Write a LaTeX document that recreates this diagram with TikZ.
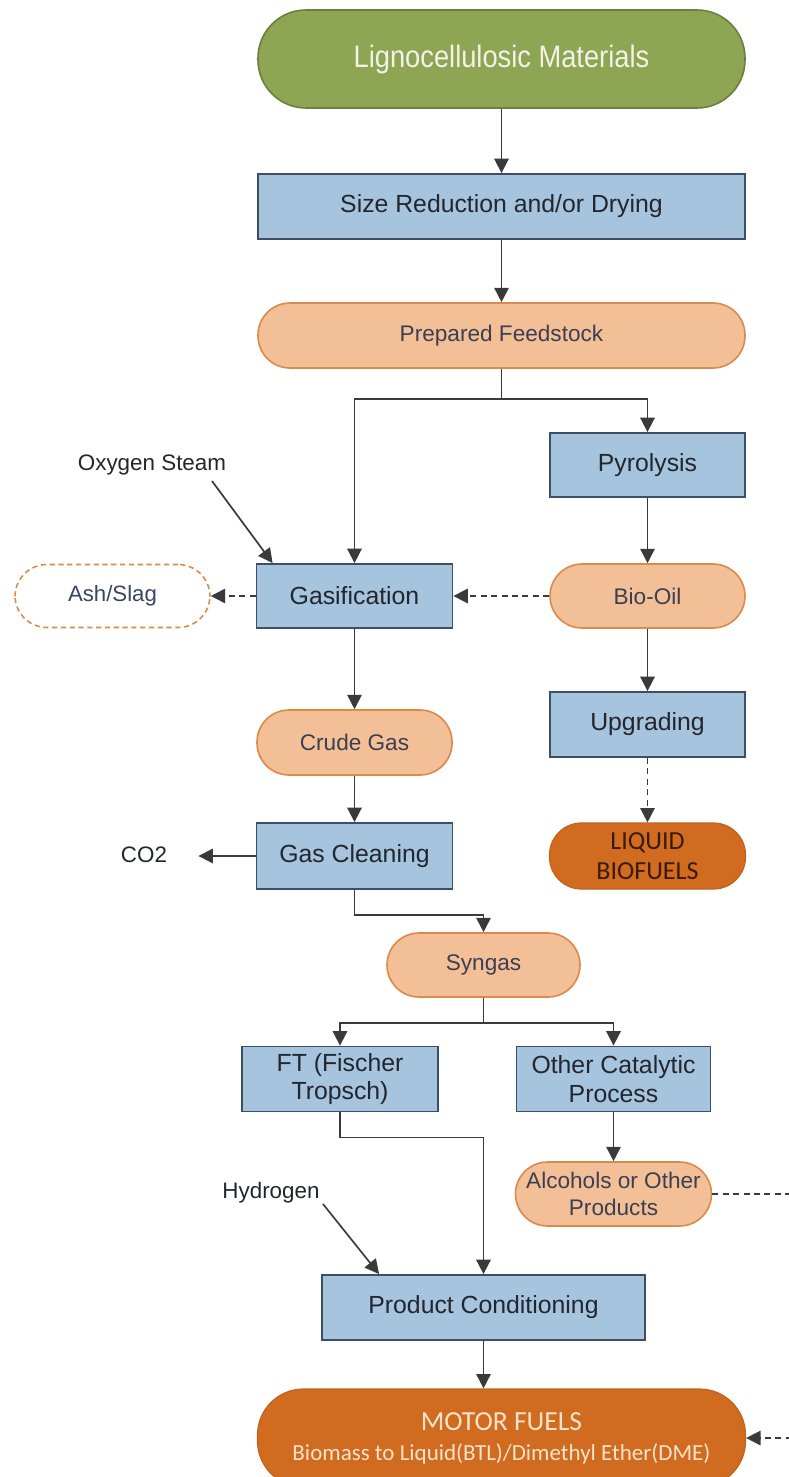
\documentclass[tikz,border=0pt]{standalone}
\usepackage{fontspec}
\setmainfont{Liberation Sans}
\newfontfamily\calfont{Carlito}
\usetikzlibrary{arrows.meta,calc}

\definecolor{boxblue}{HTML}{A7C4DE}
\definecolor{boxedge}{HTML}{3D4F66}
\definecolor{peach}{HTML}{F2BF97}
\definecolor{peachedge}{HTML}{D98A4C}
\definecolor{leaf}{HTML}{8EA554}
\definecolor{leafedge}{HTML}{6B8040}
\definecolor{rust}{HTML}{D06B1F}
\definecolor{rustedge}{HTML}{C2621C}
\definecolor{wire}{HTML}{3A3A3A}
\definecolor{inkdark}{HTML}{22262E}
\definecolor{inkpeach}{HTML}{3C3F52}
\definecolor{inkash}{HTML}{3A4466}
\definecolor{inkbrown}{HTML}{3A1A08}
\definecolor{inkcream}{HTML}{F7E3CC}
\definecolor{inkleaf}{HTML}{F4F2E6}

\begin{document}
\begin{tikzpicture}[x=0.5pt,y=-0.5pt,
  sz/.style 2 args={minimum width=#1*0.5pt, minimum height=#2*0.5pt},
  base/.style={inner sep=0pt, align=center},
  procbox/.style={base, draw=boxedge, fill=boxblue, line width=0.9pt,
    text=inkdark, font=\fontsize{12.4}{14.2}\selectfont},
  stockpill/.style={base, draw=peachedge, fill=peach, line width=0.8pt,
    rounded corners=16pt, text=inkpeach, font=\fontsize{11.3}{13.2}\selectfont},
  wastepill/.style={base, draw=peachedge, fill=white, line width=0.8pt,
    dash pattern=on 2.6pt off 1.8pt, rounded corners=16pt, text=inkash,
    font=\fontsize{11.1}{13}\selectfont},
  fuelpill/.style={base, draw=rustedge, fill=rust, line width=0.6pt,
    rounded corners=16pt, font=\calfont},
  sourcepill/.style={base, draw=leafedge, fill=leaf, line width=0.8pt,
    rounded corners=24pt, text=inkleaf},
  note/.style={base, text=inkdark, font=\fontsize{11.2}{13}\selectfont},
  wire/.style={draw=wire, line width=0.85pt, -{Triangle[length=7.2pt,width=7.2pt]}},
  plainwire/.style={draw=wire, line width=0.85pt},
  dashwire/.style={wire, dash pattern=on 3pt off 2.2pt}
]
\useasboundingbox (0,0) rectangle (788,1477);

% source material
\node[sourcepill, sz={487}{98}] (mat) at (501.5,59)
  {\fontsize{15.5}{18}\selectfont\scalebox{0.88}[1]{Lignocellulosic Materials}};

% pretreatment
\node[procbox, sz={487}{65}] (size) at (501.5,206.5) {Size Reduction and/or Drying};
\node[stockpill, sz={487}{65}] (prep) at (501.5,335.5) {Prepared Feedstock};

% pyrolysis branch
\node[procbox, sz={195}{64}] (pyro) at (647.5,465) {Pyrolysis};
\node[stockpill, sz={195}{64}] (bio) at (647.5,596) {Bio-Oil};
\node[procbox, sz={195}{65}] (upgr) at (647.5,724.5) {Upgrading};
\node[fuelpill, sz={196}{66}, text=inkbrown, font=\calfont\fontsize{13}{15}\selectfont]
  (liq) at (647.5,856) {LIQUID\\BIOFUELS};

% gasification branch
\node[procbox, sz={196}{64}] (gasi) at (354.5,596) {Gasification};
\node[wastepill, sz={195}{63}] (ash) at (112.5,596) {Ash/Slag};
\node[note] (oxy) at (152,465) {Oxygen Steam};
\node[stockpill, sz={195}{65}] (crude) at (354.5,742.5) {Crude Gas};
\node[procbox, sz={196}{66}] (clean) at (354.5,856) {Gas Cleaning};
\node[note] (co2) at (144,855) {CO2};
\node[stockpill, sz={193}{64}] (syn) at (483.5,965) {Syngas};

% synthesis
\node[procbox, sz={196}{65}] (ft) at (340,1079) {FT (Fischer\\Tropsch)};
\node[procbox, sz={194}{65}] (oth) at (613.5,1079) {Other Catalytic\\Process};
\node[stockpill, sz={196}{64}] (alc) at (613.5,1194) {Alcohols or Other\\Products};
\node[note] (hyd) at (271,1193) {Hydrogen};
\node[procbox, sz={323}{65}] (pc) at (483.5,1307.5) {Product Conditioning};
\node[fuelpill, sz={488}{98}, rounded corners=23pt, text=inkcream] (motor) at (501.5,1438)
  {\fontsize{13.8}{17}\selectfont MOTOR FUELS\\[3pt]
   \fontsize{11.5}{13}\selectfont Biomass to Liquid(BTL)/Dimethyl Ether(DME)};

% connectors
\draw[wire] (mat) -- (size);
\draw[wire] (size) -- (prep);
\coordinate (split) at ($(prep.south)+(0,30)$);
\draw[plainwire] (prep.south) -- (split);
\draw[wire] (split) -| (gasi.north);
\draw[wire] (split) -| (pyro.north);

\coordinate (oxytail) at (212,481);
\draw[wire] (oxytail) -- ($(gasi.north west)+(17,0)$);
\draw[dashwire] (gasi) -- (ash);
\draw[dashwire] (bio) -- (gasi);
\draw[wire] (pyro) -- (bio);
\draw[wire] (bio) -- (upgr);
\draw[dashwire] (upgr) -- (liq);

\draw[wire] (gasi) -- (crude);
\draw[wire] (crude) -- (clean);
\draw[wire, shorten >=15.5pt] (clean.west) -- (co2.east |- clean.west);
\draw[wire] (clean.south) -- ++(0,25) -| (syn.north);

\coordinate (split2) at ($(syn.south)+(0,25)$);
\draw[plainwire] (syn.south) -- (split2);
\draw[wire] (split2) -| (ft.north);
\draw[wire] (split2) -| (oth.north);
\draw[wire] (oth) -- (alc);

\draw[wire] (ft.south) -- ++(0,25) -| (pc.north);
\coordinate (hydtail) at (323,1204);
\draw[wire] (hydtail) -- ($(pc.north west)+(58,0)$);
\draw[wire] (pc.south) -- (pc.south |- motor.north);

% recycled stream leaving to the right and returning to the fuels
\draw[dashwire] (alc.east) -- ++(110,0) |- (motor.east);
\end{tikzpicture}
\end{document}
